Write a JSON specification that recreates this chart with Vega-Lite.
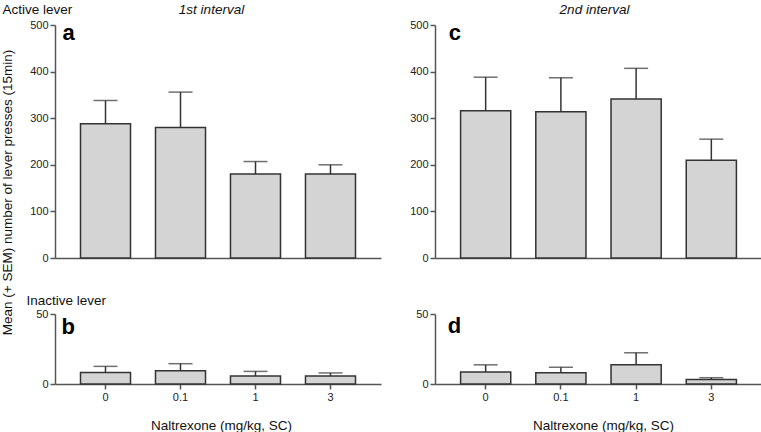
{
  "$schema": "https://vega.github.io/schema/vega-lite/v6.json",
  "padding": {"top": 2, "left": 0, "right": 0, "bottom": 0},
  "background": "white",
  "datasets": {
    "presses": [
      {"panel": "a", "dose": "0", "mean": 288, "upper": 338},
      {"panel": "a", "dose": "0.1", "mean": 280, "upper": 356},
      {"panel": "a", "dose": "1", "mean": 180, "upper": 207},
      {"panel": "a", "dose": "3", "mean": 180, "upper": 200},
      {"panel": "c", "dose": "0", "mean": 316, "upper": 388},
      {"panel": "c", "dose": "0.1", "mean": 314, "upper": 387},
      {"panel": "c", "dose": "1", "mean": 341, "upper": 407},
      {"panel": "c", "dose": "3", "mean": 210, "upper": 255},
      {"panel": "b", "dose": "0", "mean": 8.3, "upper": 12.6},
      {"panel": "b", "dose": "0.1", "mean": 9.5, "upper": 14.5},
      {"panel": "b", "dose": "1", "mean": 5.7, "upper": 9},
      {"panel": "b", "dose": "3", "mean": 5.7, "upper": 7.9},
      {"panel": "d", "dose": "0", "mean": 8.5, "upper": 13.7},
      {"panel": "d", "dose": "0.1", "mean": 8, "upper": 11.9},
      {"panel": "d", "dose": "1", "mean": 13.7, "upper": 22.3},
      {"panel": "d", "dose": "3", "mean": 3.3, "upper": 4.5}
    ]
  },
  "data": {"name": "presses"},
  "columns": 2,
  "spacing": {"row": 56, "column": 54},
  "bounds": "flush",
  "concat": [
    {
      "width": 326, "height": 233,
      "transform": [{"filter": "datum.panel === 'a'"}],
      "encoding": {
        "x": {"field": "dose", "type": "nominal", "sort": null,
          "scale": {"domain": ["0", "0.1", "1", "3"], "paddingInner": 0.333, "paddingOuter": 0.34},
          "axis": {"labels": false, "ticks": false, "title": "1st interval", "titleFontStyle": "italic", "titleX": 156, "titleY": -245, "titleAngle": 0, "titleAlign": "center", "titleBaseline": "alphabetic"}}
      },
      "layer": [
        {"mark": {"type": "bar", "fill": "#d4d4d4", "stroke": "#333", "strokeWidth": 1.5},
          "encoding": {"y": {"field": "mean", "type": "quantitative", "scale": {"domain": [0, 500], "nice": false},
            "axis": {"values": [0, 100, 200, 300, 400, 500], "title": "Active lever", "titleAngle": 0, "titleX": -53, "titleY": -12, "titleAlign": "left", "titleBaseline": "alphabetic"}}}},
        {"mark": {"type": "rule", "color": "#333", "strokeWidth": 1.5},
          "encoding": {"y": {"field": "mean", "type": "quantitative"}, "y2": {"field": "upper"}}},
        {"mark": {"type": "tick", "color": "#333", "thickness": 1.5, "size": 24},
          "encoding": {"y": {"field": "upper", "type": "quantitative"}}},
        {"transform": [{"filter": "datum.dose === '0'"}],
          "mark": {"type": "text", "fontSize": 22, "fontWeight": "bold", "align": "left", "baseline": "alphabetic", "dx": -43, "dy": 15, "color": "#000"},
          "encoding": {"y": {"datum": 500}, "text": {"field": "panel"}}}
      ]
    },
    {
      "width": 327, "height": 233,
      "transform": [{"filter": "datum.panel === 'c'"}],
      "encoding": {
        "x": {"field": "dose", "type": "nominal", "sort": null,
          "scale": {"domain": ["0", "0.1", "1", "3"], "paddingInner": 0.333, "paddingOuter": 0.34},
          "axis": {"labels": false, "ticks": false, "title": "2nd interval", "titleFontStyle": "italic", "titleX": 159, "titleY": -245, "titleAngle": 0, "titleAlign": "center", "titleBaseline": "alphabetic"}}
      },
      "layer": [
        {"mark": {"type": "bar", "fill": "#d4d4d4", "stroke": "#333", "strokeWidth": 1.5},
          "encoding": {"y": {"field": "mean", "type": "quantitative", "scale": {"domain": [0, 500], "nice": false},
            "axis": {"values": [0, 100, 200, 300, 400, 500], "title": null}}}},
        {"mark": {"type": "rule", "color": "#333", "strokeWidth": 1.5},
          "encoding": {"y": {"field": "mean", "type": "quantitative"}, "y2": {"field": "upper"}}},
        {"mark": {"type": "tick", "color": "#333", "thickness": 1.5, "size": 24},
          "encoding": {"y": {"field": "upper", "type": "quantitative"}}},
        {"transform": [{"filter": "datum.dose === '0'"}],
          "mark": {"type": "text", "fontSize": 22, "fontWeight": "bold", "align": "left", "baseline": "alphabetic", "dx": -37, "dy": 15, "color": "#000"},
          "encoding": {"y": {"datum": 500}, "text": {"field": "panel"}}}
      ]
    },
    {
      "width": 326, "height": 70,
      "transform": [{"filter": "datum.panel === 'b'"}],
      "encoding": {
        "x": {"field": "dose", "type": "nominal", "sort": null,
          "scale": {"domain": ["0", "0.1", "1", "3"], "paddingInner": 0.333, "paddingOuter": 0.34},
          "axis": {"labelAngle": 0, "title": "Naltrexone (mg/kg, SC)", "titleX": 166, "titleY": 45, "titleAlign": "center", "titleBaseline": "alphabetic"}}
      },
      "layer": [
        {"mark": {"type": "bar", "fill": "#d4d4d4", "stroke": "#333", "strokeWidth": 1.5},
          "encoding": {"y": {"field": "mean", "type": "quantitative", "scale": {"domain": [0, 50], "nice": false},
            "axis": {"values": [0, 50], "title": "Inactive lever", "titleAngle": 0, "titleX": -29, "titleY": -10, "titleAlign": "left", "titleBaseline": "alphabetic"}}}},
        {"mark": {"type": "rule", "color": "#333", "strokeWidth": 1.5},
          "encoding": {"y": {"field": "mean", "type": "quantitative"}, "y2": {"field": "upper"}}},
        {"mark": {"type": "tick", "color": "#333", "thickness": 1.5, "size": 24},
          "encoding": {"y": {"field": "upper", "type": "quantitative"}}},
        {"transform": [{"filter": "datum.dose === '0'"}],
          "mark": {"type": "text", "fontSize": 22, "fontWeight": "bold", "align": "left", "baseline": "alphabetic", "dx": -44, "dy": 20, "color": "#000"},
          "encoding": {"y": {"datum": 50}, "text": {"field": "panel"}}}
      ]
    },
    {
      "width": 327, "height": 70,
      "transform": [{"filter": "datum.panel === 'd'"}],
      "encoding": {
        "x": {"field": "dose", "type": "nominal", "sort": null,
          "scale": {"domain": ["0", "0.1", "1", "3"], "paddingInner": 0.333, "paddingOuter": 0.34},
          "axis": {"labelAngle": 0, "title": "Naltrexone (mg/kg, SC)", "titleX": 168, "titleY": 45, "titleAlign": "center", "titleBaseline": "alphabetic"}}
      },
      "layer": [
        {"mark": {"type": "bar", "fill": "#d4d4d4", "stroke": "#333", "strokeWidth": 1.5},
          "encoding": {"y": {"field": "mean", "type": "quantitative", "scale": {"domain": [0, 50], "nice": false},
            "axis": {"values": [0, 50], "title": "Mean (+ SEM) number of lever presses (15min)", "titleFontSize": 13.5, "titleAngle": 270, "titleX": -424, "titleY": -122, "titleAlign": "center", "titleBaseline": "alphabetic"}}}},
        {"mark": {"type": "rule", "color": "#333", "strokeWidth": 1.5},
          "encoding": {"y": {"field": "mean", "type": "quantitative"}, "y2": {"field": "upper"}}},
        {"mark": {"type": "tick", "color": "#333", "thickness": 1.5, "size": 24},
          "encoding": {"y": {"field": "upper", "type": "quantitative"}}},
        {"transform": [{"filter": "datum.dose === '0'"}],
          "mark": {"type": "text", "fontSize": 22, "fontWeight": "bold", "align": "left", "baseline": "alphabetic", "dx": -38, "dy": 19, "color": "#000"},
          "encoding": {"y": {"datum": 50}, "text": {"field": "panel"}}}
      ]
    }
  ],
  "config": {
    "font": "Liberation Sans",
    "view": {"stroke": null},
    "axis": {
      "grid": false,
      "domainColor": "#555",
      "domainWidth": 1.5,
      "tickColor": "#555",
      "tickWidth": 1.5,
      "tickSize": 5,
      "labelPadding": 2,
      "labelFontSize": 11,
      "labelColor": "#222",
      "labelFont": "Liberation Sans",
      "titleFont": "Liberation Sans",
      "titleFontSize": 13.5,
      "titleFontWeight": "normal",
      "titleColor": "#111"
    }
  }
}
